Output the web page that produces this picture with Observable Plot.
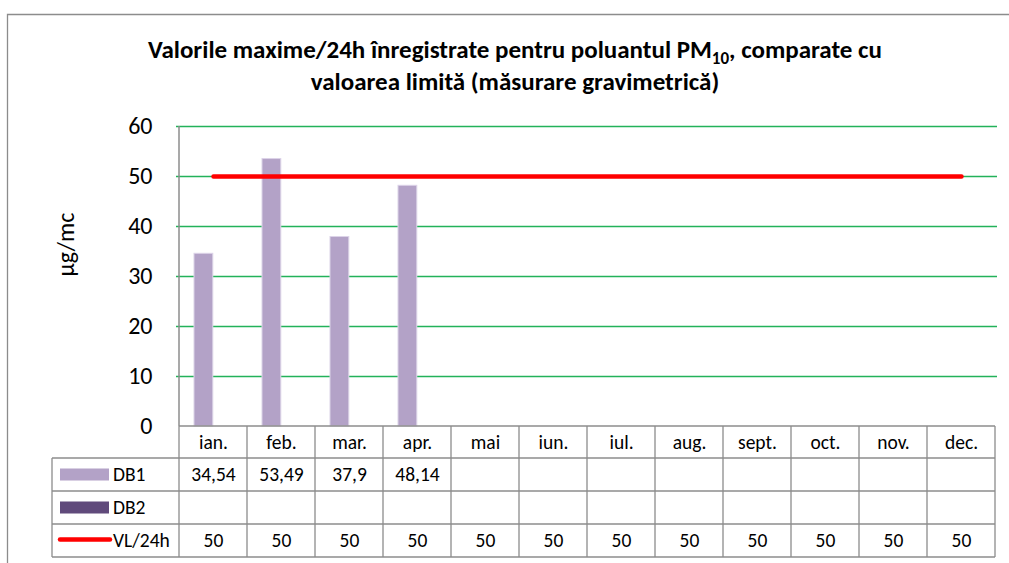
<!DOCTYPE html>
<html><head><meta charset="utf-8">
<script src="https://cdn.jsdelivr.net/npm/d3@7"></script>
<script src="https://cdn.jsdelivr.net/npm/@observablehq/plot@0.6"></script>
<style>body{margin:0;background:#fff;}</style>
</head><body><div id="chart"></div>
<script>
const months = ["ian.","feb.","mar.","apr.","mai","iun.","iul.","aug.","sept.","oct.","nov.","dec."];
const db1 = [34.54, 53.49, 37.9, 48.14, null, null, null, null, null, null, null, null];
const db2 = [null, null, null, null, null, null, null, null, null, null, null, null];
const vl = [50, 50, 50, 50, 50, 50, 50, 50, 50, 50, 50, 50];
const yTicks = [0, 10, 20, 30, 40, 50, 60];
const seriesNames = ["DB1", "DB2", "VL/24h"];
const colors = {DB1: "#B3A2C7", DB2: "#604A7B", VL: "#FF0000"};

const FONT = "Carlito, Calibri, Lato, sans-serif";
const data = months.map((m, i) => ({month: m, db1: db1[i], db2: db2[i], vl: vl[i]}));
const fmt = v => v == null ? "" : String(v).replace(".", ",");

const W = 1009, H = 563, ML = 176, MR = 12, MT = 126, MB = 137;
const step = (W - ML - MR) / months.length;
const rowTops = [0, 32, 65, 98, 131]; // pixel offsets below the zero line
const gray = "#8c8c8c";
const TFS = 19.5; // table font size

function decorations(index, scales) {
  const x = scales.x, y = scales.y;
  const st = x(months[1]) - x(months[0]);
  const x0 = x(months[0]);
  const x1 = x(months[months.length - 1]) + st;
  const y0 = y(0);
  const legLeft = x0 - 127;
  const g = d3.create("svg:g").attr("font-family", FONT);
  // outer chart border
  g.append("path").attr("d", `M7.5,${H}V14.5H${W}`).attr("fill", "none").attr("stroke", gray).attr("stroke-width", 1.3);
  // title
  const t = g.append("text").attr("x", 515).attr("y", 58).attr("text-anchor", "middle")
    .attr("font-weight", "bold").attr("font-size", 25).attr("fill", "#000");
  t.append("tspan").text("Valorile maxime/24h înregistrate pentru poluantul PM");
  t.append("tspan").attr("font-size", 17).attr("dy", 6).text("10");
  t.append("tspan").attr("dy", -6).text(", comparate cu");
  g.append("text").attr("x", 515).attr("y", 90).attr("text-anchor", "middle")
    .attr("font-weight", "bold").attr("font-size", 25).attr("fill", "#000")
    .text("valoarea limită (măsurare gravimetrică)");
  // y axis line
  g.append("line").attr("x1", x0).attr("x2", x0).attr("y1", y(60)).attr("y2", y0)
    .attr("stroke", gray).attr("stroke-width", 1.5);
  // table horizontal lines
  rowTops.forEach((r, i) => {
    g.append("line").attr("x1", i === 0 ? x0 : legLeft).attr("x2", x1)
      .attr("y1", y0 + r).attr("y2", y0 + r).attr("stroke", gray).attr("stroke-width", 1.3);
  });
  // table vertical lines
  for (let i = 0; i <= months.length; i++) {
    g.append("line").attr("x1", x0 + i * st).attr("x2", x0 + i * st)
      .attr("y1", y0).attr("y2", y0 + rowTops[4]).attr("stroke", gray).attr("stroke-width", 1.3);
  }
  g.append("line").attr("x1", legLeft).attr("x2", legLeft)
    .attr("y1", y0 + rowTops[1]).attr("y2", y0 + rowTops[4]).attr("stroke", gray).attr("stroke-width", 1.3);
  // legend keys
  const mid = i => y0 + (rowTops[i + 1] + rowTops[i + 2]) / 2;
  g.append("rect").attr("x", legLeft + 8).attr("y", mid(0) - 6).attr("width", 49).attr("height", 12).attr("fill", colors.DB1);
  g.append("rect").attr("x", legLeft + 8).attr("y", mid(1) - 6).attr("width", 49).attr("height", 12).attr("fill", colors.DB2);
  g.append("line").attr("x1", legLeft + 8).attr("x2", legLeft + 58).attr("y1", mid(2) - 1).attr("y2", mid(2) - 1)
    .attr("stroke", colors.VL).attr("stroke-width", 4.5).attr("stroke-linecap", "round");
  seriesNames.forEach((s, i) => {
    g.append("text").attr("x", legLeft + 61).attr("y", mid(i)).attr("dy", "0.35em")
      .attr("text-anchor", "start").attr("font-size", TFS).attr("fill", "#000").text(s);
  });
  return g.node();
}

const plot = Plot.plot({
  width: W, height: H,
  marginLeft: ML, marginRight: MR, marginTop: MT, marginBottom: MB,
  style: {fontFamily: FONT, background: "#fff", overflow: "visible"},
  x: {type: "band", domain: months, padding: 0, axis: null},
  y: {domain: [0, 60], axis: null},
  marks: [
    Plot.ruleY(yTicks.filter(d => d > 0), {stroke: "#23B25A", strokeWidth: 1.6}),
    Plot.axisY({ticks: yTicks, tickSize: 0, tickPadding: 24, fontSize: 24, label: null, fill: "#000"}),
    Plot.text(["µg/mc"], {frameAnchor: "left", dx: -110, rotate: -90, fontSize: 24, fill: "#000"}),
    Plot.barY(data, {x: "month", y: "db1", fill: colors.DB1, stroke: "#DCD3E8", strokeWidth: 1, insetLeft: 15, insetRight: step / 2}),
    Plot.barY(data, {x: "month", y: "db2", fill: colors.DB2, insetLeft: step / 2, insetRight: 15}),
    Plot.lineY(data, {x: "month", y: "vl", stroke: colors.VL, strokeWidth: 4.5, strokeLinecap: "round"}),
    decorations,
    Plot.text(data, {x: "month", y: () => 0, text: "month", dy: 16, fontSize: TFS, fill: "#000"}),
    Plot.text(data, {x: "month", y: () => 0, text: d => fmt(d.db1), dy: 48.5, fontSize: TFS, fill: "#000"}),
    Plot.text(data, {x: "month", y: () => 0, text: d => fmt(d.db2), dy: 81.5, fontSize: TFS, fill: "#000"}),
    Plot.text(data, {x: "month", y: () => 0, text: d => fmt(d.vl), dy: 114.5, fontSize: TFS, fill: "#000"})
  ]
});
document.getElementById("chart").appendChild(plot);
</script>
</body></html>
